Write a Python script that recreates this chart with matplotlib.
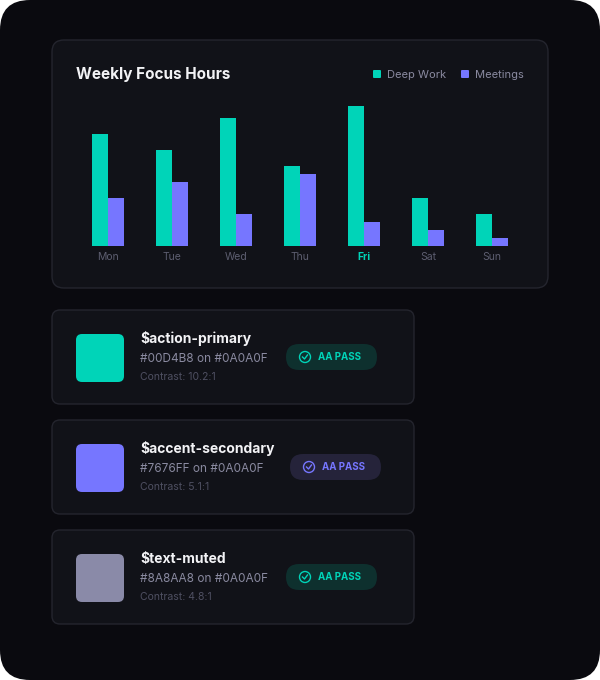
import matplotlib.pyplot as plt
from matplotlib.patches import FancyBboxPatch, Circle
import numpy as np

days = ['Mon', 'Tue', 'Wed', 'Thu', 'Fri', 'Sat', 'Sun']
deep_work = [14, 12, 16, 10, 17.5, 6, 4]
meetings = [6, 8, 4, 9, 3, 2, 1]
highlight_day = 'Fri'

token_names = ['$action-primary', '$accent-secondary', '$text-muted']
token_hex = ['#00D4B8', '#7676FF', '#8A8AA8']
contrast = ['10.2:1', '5.1:1', '4.8:1']

W, H = 600, 680
BG = '#0A0A0F'
CARD = '#111218'
EDGE = '#24252e'
TEAL = '#00D4B8'
PURPLE = '#7676FF'
MUTED = '#5d5e70'
FONT = ['Inter', 'DejaVu Sans']

fig = plt.figure(figsize=(6, 6.8), dpi=100)
fig.patch.set_facecolor('white')
bg = fig.add_axes([0, 0, 1, 1])
bg.set_xlim(0, W)
bg.set_ylim(H, 0)
bg.axis('off')

def rbox(x, y, w, h, r, fc, ec='none', lw=1, z=1):
    bg.add_patch(FancyBboxPatch((x + r, y + r), w - 2 * r, h - 2 * r,
                                boxstyle=f'round,pad={r}', fc=fc, ec=ec, lw=lw, zorder=z))

rbox(0, 0, W, H, 30, BG)
# chart card
rbox(52, 40, 496, 248, 12, CARD, EDGE)
bg.text(76, 75, 'Weekly Focus Hours', color='#f2f2f5', fontsize=11, fontweight='bold',
        va='center', family=FONT, zorder=5)
bg.add_patch(FancyBboxPatch((374, 71), 6, 6, boxstyle='round,pad=1', fc=TEAL, ec='none', zorder=5))
bg.text(387, 75, 'Deep Work', color='#8a8aa0', fontsize=8, va='center', family=FONT, zorder=5)
bg.add_patch(FancyBboxPatch((462, 71), 6, 6, boxstyle='round,pad=1', fc=PURPLE, ec='none', zorder=5))
bg.text(475, 75, 'Meetings', color='#8a8aa0', fontsize=8, va='center', family=FONT, zorder=5)

# bar axes: x 76..524 px, y 96..246 px, 8 px per hour
ax = fig.add_axes([76 / W, 1 - 246 / H, 448 / W, 150 / H])
ax.set_facecolor('none')
x = np.arange(len(days))
ax.bar(x - 0.125, deep_work, width=0.25, color=TEAL, zorder=3)
ax.bar(x + 0.125, meetings, width=0.25, color=PURPLE, zorder=3)
ax.set_xlim(-0.5, len(days) - 0.5)
ax.set_ylim(0, 150 / 8)
ax.axis('off')
for i, d in enumerate(days):
    hl = d == highlight_day
    ax.text(i, -0.7, d, ha='center', va='top', fontsize=7.5, family=FONT,
            color=TEAL if hl else MUTED, fontweight='bold' if hl else 'normal')

# token cards
for k, (name, hx, c) in enumerate(zip(token_names, token_hex, contrast)):
    y0 = 310 + k * 110
    rbox(52, y0, 362, 94, 8, CARD, EDGE)
    rbox(76, y0 + 24, 48, 48, 6, hx, z=3)
    bg.text(140, y0 + 29, name, color='#f2f2f5', fontsize=10, fontweight='bold',
            va='center', family=FONT, zorder=5)
    bg.text(140, y0 + 49, f'{hx} on {BG.upper()}', color='#8a8aa0', fontsize=8.5,
            va='center', family=FONT, zorder=5)
    bg.text(140, y0 + 67, f'Contrast: {c}', color='#4f5062', fontsize=7.5,
            va='center', family=FONT, zorder=5)
    purple = hx == '#7676FF'
    bx = 290 if purple else 286
    col = PURPLE if purple else TEAL
    rbox(bx, y0 + 34, 91, 26, 13, '#25233a' if purple else '#0e302e', z=3)
    bg.add_patch(Circle((bx + 19, y0 + 47), 5.5, fc='none', ec=col, lw=1, zorder=5))
    bg.plot([bx + 16.5, bx + 18.5, bx + 21.5], [y0 + 47, y0 + 49, y0 + 45], color=col, lw=1, zorder=6)
    bg.text(bx + 32, y0 + 47.5, 'AA PASS', color=col, fontsize=7, fontweight='bold',
            va='center', family=FONT, zorder=5)

fig.savefig('out.png', dpi=100, facecolor=fig.get_facecolor())
